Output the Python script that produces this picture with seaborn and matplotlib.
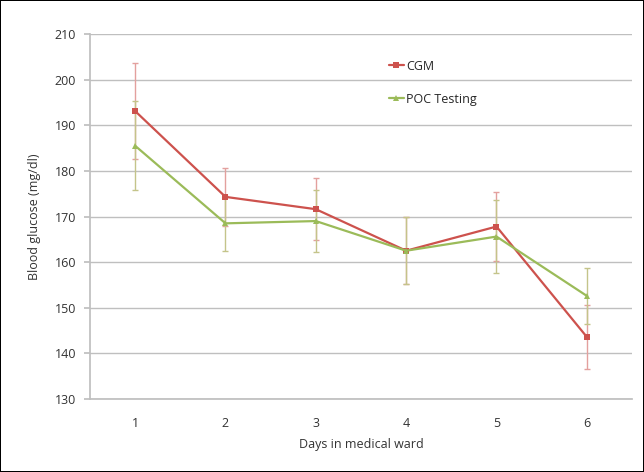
import pandas as pd
import numpy as np
import matplotlib.pyplot as plt
import seaborn as sns

sns.set_theme(style='white')
plt.rcParams['font.family'] = ['Open Sans', 'DejaVu Sans']

# data
days = [1, 2, 3, 4, 5, 6]
cgm_mean = [193.1, 174.3, 171.6, 162.5, 167.8, 143.6]
cgm_err = [10.5, 6.3, 6.8, 7.3, 7.5, 7.0]
poc_mean = [185.5, 168.5, 169.0, 162.5, 165.6, 152.6]
poc_err = [9.8, 6.1, 6.7, 7.3, 8.0, 6.2]

df = pd.DataFrame({
    'Day': days * 2,
    'Glucose': cgm_mean + poc_mean,
    'Method': ['CGM'] * 6 + ['POC Testing'] * 6,
})

red = '#CD524D'
green = '#9BBB59'

fig = plt.figure(figsize=(6.44, 4.72), dpi=100, edgecolor='black', linewidth=1.2)
ax = fig.add_axes([90 / 644, 1 - 399 / 472, 542 / 644, 365 / 472])

# error bars first, so the lines sit on top
ax.errorbar(days, cgm_mean, yerr=cgm_err, fmt='none', ecolor='#E3A09E',
            elinewidth=1, capsize=2.5, capthick=1, zorder=2)
ax.errorbar(days, poc_mean, yerr=poc_err, fmt='none', ecolor='#C4C48A',
            elinewidth=1, capsize=2.5, capthick=1, zorder=2)

sns.lineplot(data=df, x='Day', y='Glucose', hue='Method', style='Method',
             markers={'CGM': 's', 'POC Testing': '^'}, dashes=False,
             palette={'CGM': red, 'POC Testing': green},
             markersize=5, markeredgewidth=0, linewidth=1.6, ax=ax, zorder=3)

ax.set_xlim(0.5, 6.5)
ax.set_ylim(130, 210)
ax.set_xticks(days)
ax.set_yticks(range(130, 211, 10))
ax.yaxis.grid(True, color='#BFBFBF', linewidth=1)
ax.set_axisbelow(True)

for s in ['top', 'right']:
    ax.spines[s].set_visible(False)
ax.spines['left'].set_color('#BFBFBF')
ax.spines['bottom'].set_color('#BFBFBF')
ax.tick_params(axis='y', left=True, length=4, color='#BFBFBF',
               labelsize=9, labelcolor='#333333', pad=6)
ax.tick_params(axis='x', bottom=False, labelsize=9, labelcolor='#333333', pad=7)

ax.set_xlabel('Days in medical ward', fontsize=9, color='#333333', labelpad=6)
ax.set_ylabel('Blood glucose (mg/dl)', fontsize=9, color='#333333', labelpad=10)

leg = ax.legend(loc='upper left', bbox_to_anchor=(0.53, 0.96), frameon=False,
                fontsize=9, handlelength=1.2, handletextpad=0.2, labelspacing=1.6,
                title=None)

fig.savefig('out.png', dpi=100)
